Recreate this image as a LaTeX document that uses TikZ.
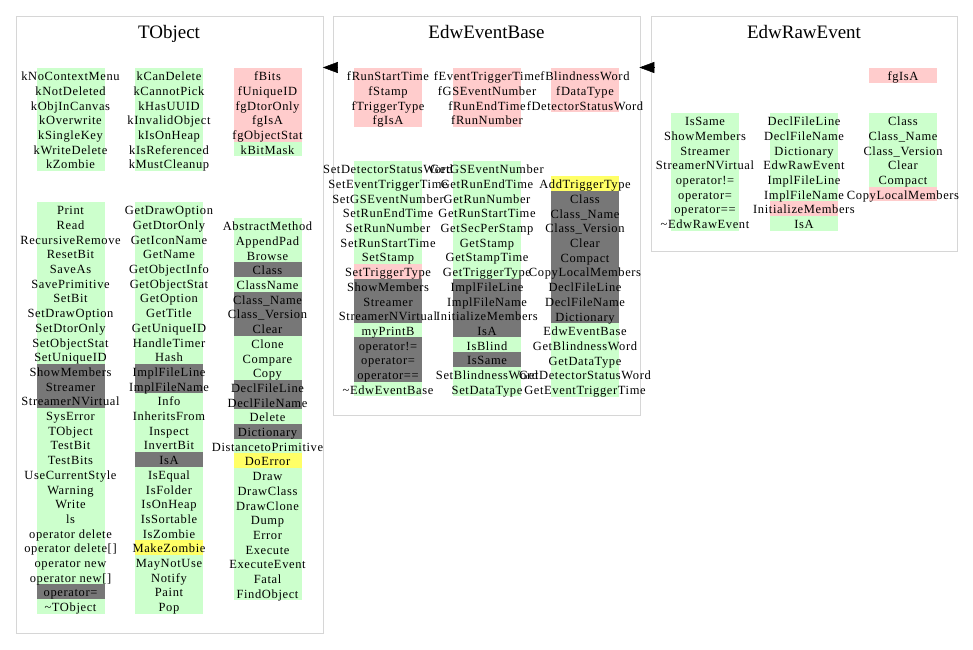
\documentclass[tikz,border=0pt]{standalone}
\usepackage{fontspec}
\setmainfont{Liberation Serif}
\newfontfamily\memberfont[LetterSpace=5]{Liberation Serif}
\usetikzlibrary{arrows.meta}

\definecolor{gn}{RGB}{204,255,204}
\definecolor{rd}{RGB}{255,204,204}
\definecolor{gy}{RGB}{119,119,119}
\definecolor{yl}{RGB}{255,255,102}
\definecolor{frame}{RGB}{214,214,214}

\pgfdeclarelayer{bands}
\pgfsetlayers{bands,main}

\newcommand{\rowh}{14.7}
% one column of members: #1 name, #2 x centre, #3 top of first row, #4 colour/text list
\newcommand{\memcol}[4]{%
  \begin{pgfonlayer}{bands}
    \foreach \c/\t [count=\i from 0] in {#4}
      \fill[\c] (#2-34, #3+\i*\rowh) rectangle (#2+34, #3+\i*\rowh+\rowh);
  \end{pgfonlayer}
  \foreach \c/\t [count=\i from 0] in {#4}
    \node[member] (#1-\i) at (#2, #3+\i*\rowh+0.5*\rowh+5.4) {\t};
}

\tikzset{
  classbox/.style={draw=frame, line width=1.3pt, fill=none, anchor=north west, inner sep=0pt},
  title/.style={anchor=base, inner sep=0pt, font=\fontsize{19}{20}\selectfont},
  member/.style={anchor=base, inner sep=0pt, font={\memberfont\fontsize{12.5}{14}\selectfont}},
  inherit/.style={-{Triangle[length=15pt,width=11pt]}, line width=0.5pt, black},
}

\begin{document}
\begin{tikzpicture}[x=1pt, y=-1pt]
\useasboundingbox (0,0) rectangle (973,649);

% class frames
\node[classbox, minimum width=306.5pt, minimum height=616.5pt] (tobject) at (16,16) {};
\node[classbox, minimum width=306.5pt, minimum height=399pt] (ebase) at (333,16) {};
\node[classbox, minimum width=306pt, minimum height=235pt] (rawev) at (651,16) {};

\node[title] (tobject-name) at (169,38.5) {TObject};
\node[title] (ebase-name) at (486.5,38.5) {EdwEventBase};
\node[title] (rawev-name) at (804,38.5) {EdwRawEvent};

% inheritance arrows
\coordinate (arrowrow) at (0,67.5);
\draw[inherit] ([xshift=3pt]ebase.west |- arrowrow) -- ([xshift=-1pt]tobject.east |- arrowrow);
\draw[inherit] ([xshift=3pt]rawev.west |- arrowrow) -- ([xshift=-1.5pt]ebase.east |- arrowrow);

% ---- TObject data members
\memcol{to-f1}{70.5}{68}{gn/kNoContextMenu, gn/kNotDeleted, gn/kObjInCanvas, gn/kOverwrite,
  gn/kSingleKey, gn/kWriteDelete, gn/kZombie}
\memcol{to-f2}{169}{68}{gn/kCanDelete, gn/kCannotPick, gn/kHasUUID, gn/kInvalidObject,
  gn/kIsOnHeap, gn/kIsReferenced, gn/kMustCleanup}
\memcol{to-f3}{267.5}{68}{rd/fBits, rd/fUniqueID, rd/fgDtorOnly, rd/fgIsA, rd/fgObjectStat, gn/kBitMask}

% ---- TObject methods
\memcol{to-m1}{70.5}{202}{gn/Print, gn/Read, gn/RecursiveRemove, gn/ResetBit, gn/SaveAs,
  gn/SavePrimitive, gn/SetBit, gn/SetDrawOption, gn/SetDtorOnly, gn/SetObjectStat,
  gn/SetUniqueID, gy/ShowMembers, gy/Streamer, gy/StreamerNVirtual, gn/SysError,
  gn/TObject, gn/TestBit, gn/TestBits, gn/UseCurrentStyle, gn/Warning, gn/Write, gn/ls,
  gn/operator delete, gn/{operator delete[]}, gn/operator new, gn/{operator new[]},
  gy/operator=, gn/\textasciitilde TObject}
\memcol{to-m2}{169}{202}{gn/GetDrawOption, gn/GetDtorOnly, gn/GetIconName, gn/GetName,
  gn/GetObjectInfo, gn/GetObjectStat, gn/GetOption, gn/GetTitle, gn/GetUniqueID,
  gn/HandleTimer, gn/Hash, gy/ImplFileLine, gy/ImplFileName, gn/Info, gn/InheritsFrom,
  gn/Inspect, gn/InvertBit, gy/IsA, gn/IsEqual, gn/IsFolder, gn/IsOnHeap, gn/IsSortable,
  gn/IsZombie, yl/MakeZombie, gn/MayNotUse, gn/Notify, gn/Paint, gn/Pop}
\memcol{to-m3}{267.5}{218}{gn/AbstractMethod, gn/AppendPad, gn/Browse, gy/Class,
  gn/ClassName, gy/Class\_Name, gy/Class\_Version, gy/Clear, gn/Clone, gn/Compare,
  gn/Copy, gy/DeclFileLine, gy/DeclFileName, gn/Delete, gy/Dictionary,
  gn/DistancetoPrimitive, yl/DoError, gn/Draw, gn/DrawClass, gn/DrawClone, gn/Dump,
  gn/Error, gn/Execute, gn/ExecuteEvent, gn/Fatal, gn/FindObject}

% ---- EdwEventBase data members
\memcol{eb-f1}{388}{68}{rd/fRunStartTime, rd/fStamp, rd/fTriggerType, rd/fgIsA}
\memcol{eb-f2}{487}{68}{rd/fEventTriggerTime, rd/fGSEventNumber, rd/fRunEndTime, rd/fRunNumber}
\memcol{eb-f3}{585}{68}{rd/fBlindnessWord, rd/fDataType, rd/fDetectorStatusWord}

% ---- EdwEventBase methods
\memcol{eb-m1}{388}{161}{gn/SetDetectorStatusWord, gn/SetEventTriggerTime,
  gn/SetGSEventNumber, gn/SetRunEndTime, gn/SetRunNumber, gn/SetRunStartTime,
  gn/SetStamp, rd/SetTriggerType, gy/ShowMembers, gy/Streamer, gy/StreamerNVirtual,
  gn/myPrintB, gy/operator!=, gy/operator=, gy/operator==, gn/\textasciitilde EdwEventBase}
\memcol{eb-m2}{487}{161}{gn/GetGSEventNumber, gn/GetRunEndTime, gn/GetRunNumber,
  gn/GetRunStartTime, gn/GetSecPerStamp, gn/GetStamp, gn/GetStampTime,
  gn/GetTriggerType, gy/ImplFileLine, gy/ImplFileName, gy/InitializeMembers, gy/IsA,
  gn/IsBlind, gy/IsSame, gn/SetBlindnessWord, gn/SetDataType}
\memcol{eb-m3}{585}{176}{yl/AddTriggerType, gy/Class, gy/Class\_Name, gy/Class\_Version,
  gy/Clear, gy/Compact, gy/CopyLocalMembers, gy/DeclFileLine, gy/DeclFileName,
  gy/Dictionary, gn/EdwEventBase, gn/GetBlindnessWord, gn/GetDataType,
  gn/GetDetectorStatusWord, gn/GetEventTriggerTime}

% ---- EdwRawEvent
\memcol{re-f3}{903}{68}{rd/fgIsA}
\memcol{re-m1}{705}{113}{gn/IsSame, gn/ShowMembers, gn/Streamer, gn/StreamerNVirtual,
  gn/operator!=, gn/operator=, gn/operator==, gn/\textasciitilde EdwRawEvent}
\memcol{re-m2}{804}{113}{gn/DeclFileLine, gn/DeclFileName, gn/Dictionary, gn/EdwRawEvent,
  gn/ImplFileLine, gn/ImplFileName, rd/InitializeMembers, gn/IsA}
\memcol{re-m3}{903}{113}{gn/Class, gn/Class\_Name, gn/Class\_Version, gn/Clear,
  gn/Compact, rd/CopyLocalMembers}
\end{tikzpicture}
\end{document}
